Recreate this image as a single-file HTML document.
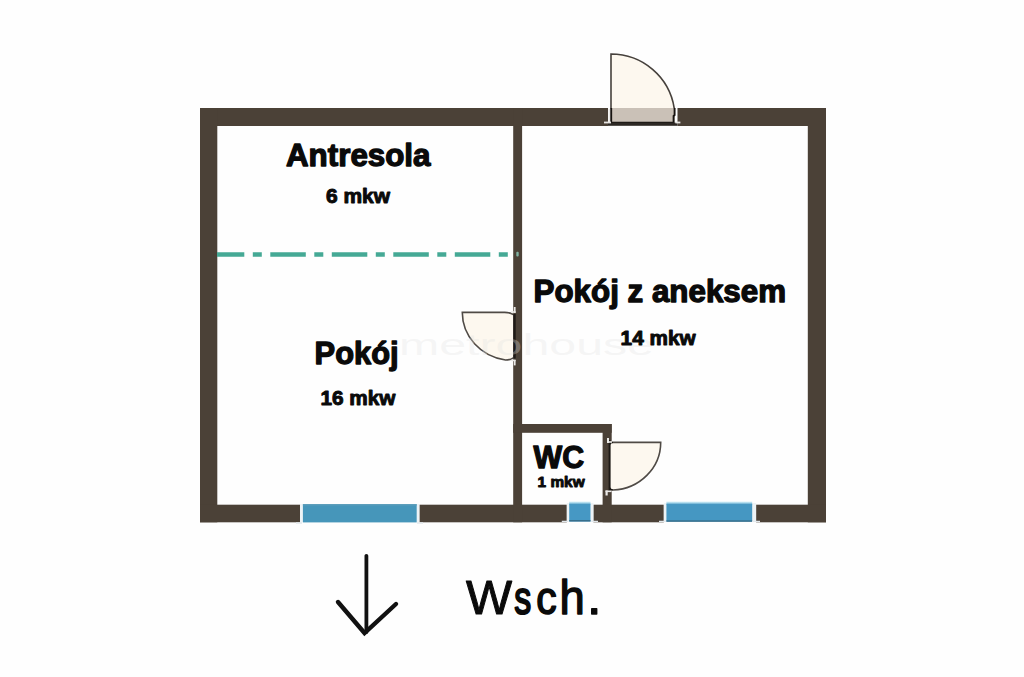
<!DOCTYPE html>
<html>
<head>
<meta charset="utf-8">
<style>
html,body{margin:0;padding:0;background:#fefefe;}
body{width:1024px;height:677px;overflow:hidden;position:relative;}
svg{position:absolute;left:0;top:0;}
.b{font-family:"Liberation Sans",sans-serif;font-weight:bold;fill:#0a0a0a;stroke:#0a0a0a;stroke-width:1.3px;stroke-linejoin:round;}
.s{stroke-width:0.95px;}
.r{font-family:"Liberation Sans",sans-serif;font-weight:normal;fill:#0a0a0a;}
.w{stroke:#0a0a0a;stroke-width:1.1px;stroke-linejoin:round;}
</style>
</head>
<body>
<svg width="1024" height="677" viewBox="0 0 1024 677">
  <defs>
    <linearGradient id="wg" x1="0" y1="0" x2="0" y2="1">
      <stop offset="0" stop-color="#e4f6fa"/>
      <stop offset="0.5" stop-color="#a6d6ea"/>
      <stop offset="1" stop-color="#4a9ac4"/>
    </linearGradient>
  </defs>
  <!-- walls -->
  <g fill="#4b4137">
    <!-- top wall split by door 608..677.5 -->
    <rect x="200" y="108" width="408" height="18"/>
    <rect x="677.5" y="108" width="148.5" height="18"/>
    <!-- left wall -->
    <rect x="200" y="108" width="17.3" height="414.3"/>
    <!-- right wall -->
    <rect x="807.8" y="108" width="18.2" height="414.3"/>
    <!-- bottom wall segments -->
    <rect x="200" y="504.7" width="100" height="17.6"/>
    <rect x="419.4" y="504.7" width="147.4" height="17.6"/>
    <rect x="593.4" y="504.7" width="70.4" height="17.6"/>
    <rect x="756.1" y="504.7" width="69.9" height="17.6"/>
    <!-- middle wall -->
    <rect x="513.2" y="108" width="8.9" height="414.3"/>
    <!-- WC walls -->
    <rect x="513.2" y="424" width="98.5" height="8.8"/>
    <rect x="602.6" y="424" width="9.1" height="98.3"/>
  </g>

  <!-- windows -->
  <g fill="#edf3f6">
    <rect x="300" y="504" width="2.9" height="18.3"/>
    <rect x="416.7" y="504" width="2.7" height="18.3"/>
    <rect x="566.8" y="503" width="2.4" height="19"/>
    <rect x="590.5" y="503" width="2.9" height="19"/>
    <rect x="663.8" y="503" width="2.6" height="19"/>
    <rect x="752.2" y="503" width="3.9" height="19"/>
  </g>
  <g>
    <rect x="302.9" y="504.2" width="113.8" height="18.2" fill="#4696ba"/>
    <rect x="302.9" y="504.2" width="113.8" height="1.3" fill="#5a9cb9"/>
    <rect x="569.2" y="504" width="21.3" height="17.5" fill="#4698c4"/>
    <rect x="569.2" y="501.4" width="21.3" height="3" fill="url(#wg)"/>
    <rect x="569.2" y="520" width="21.3" height="1.5" fill="#386f8c"/>
    <rect x="666.4" y="504" width="85.8" height="17.5" fill="#4597c2"/>
    <rect x="666.4" y="501.4" width="85.8" height="3" fill="url(#wg)"/>
    <rect x="666.4" y="520.3" width="85.8" height="1.5" fill="#386f8c"/>
  </g>
  <g stroke="#e2e8ec" stroke-width="1.3" fill="none">
    <path d="M561.8 521.3 H568 M591.5 521.3 H598"/>
    <path d="M659 521.4 H666 M752 521.4 H760"/>
    <path d="M296 523 H302 M417 523 H423"/>
  </g>

  <!-- top door -->
  <path d="M611 108.5 V54 A64 64 0 0 1 674.2 108.5 Z" fill="#fdf8ef"/>
  <rect x="611" y="108" width="63.6" height="14.5" fill="#cac1b7"/>
  <path d="M611 108.5 V54 A64 64 0 0 1 674.2 108" fill="none" stroke="#46413c" stroke-width="1.6"/>
  <path d="M611.2 108 V122.6 H673.6 L673.6 116 L674.6 115 V108" fill="none" stroke="#171310" stroke-width="1.9"/>
  <rect x="608" y="122.6" width="69.5" height="3.2" fill="#2d2824"/>
  <g fill="#e6e4e1">
    <rect x="604" y="121.6" width="7" height="1.8"/>
    <rect x="675.4" y="121.6" width="5" height="1.8"/>
    <rect x="608.6" y="109" width="1.2" height="13"/>
  </g>

  <!-- middle door (left of middle wall) -->
  <path d="M513.3 314.6 Q510.5 312.4 504.6 312.4 H462.3 A51 48 0 0 0 505.5 360 Q510.5 360 513.3 357.8 Z" fill="#fdf8ef"/>
  <path d="M513.3 314.6 Q510.5 312.4 504.6 312.4 H462.3 A51 48 0 0 0 505.5 360 Q510.5 360 513.3 357.8" fill="none" stroke="#4f4a45" stroke-width="1.6"/>
  <rect x="513.2" y="314" width="2.5" height="44.5" fill="#1e1a16"/>
  <g fill="#ebeae8">
    <rect x="513.8" y="307" width="1.8" height="6"/>
    <rect x="511" y="311.2" width="4.6" height="1.6"/>
    <rect x="513.8" y="360" width="1.8" height="5.4"/>
    <rect x="511" y="359.6" width="4.6" height="1.6"/>
  </g>

  <!-- WC door -->
  <path d="M609.3 444.5 Q610 442.4 613 442.4 H660.7 A50 47.7 0 0 1 613 490 Q610 490 609.3 487.7 Z" fill="#fdf8ef"/>
  <path d="M613 442.4 H660.7 A50 47.7 0 0 1 613 490" fill="none" stroke="#4f4a45" stroke-width="1.6"/>
  <path d="M609.6 440 V492" stroke="#1c1814" stroke-width="2"/>
  <path d="M609.6 444.5 Q610 442.4 613 442.4 M609.6 487.7 Q610 490 613 490" fill="none" stroke="#1c1814" stroke-width="1.6"/>
  <g fill="#ebeae8">
    <rect x="607" y="438" width="2" height="5"/>
    <rect x="607" y="441.2" width="5" height="1.6"/>
    <rect x="605.5" y="490.5" width="2.2" height="5"/>
    <rect x="605.5" y="490.5" width="6" height="1.6"/>
  </g>

  <!-- antresola dash-dot line -->
  <line x1="217" y1="254.5" x2="513" y2="254.5" stroke="#45a995" stroke-width="4.5" stroke-dasharray="35.5 8.5 9 8.5" stroke-dashoffset="8.2"/>

  <rect x="516.3" y="251.8" width="2.4" height="4.6" rx="1" fill="#80b2a2"/>

  <text x="399" y="355" font-family="Liberation Sans, sans-serif" font-size="29" fill="#e2e2e2" fill-opacity="0.33" textLength="255" lengthAdjust="spacingAndGlyphs">metrohouse</text>

  <!-- labels -->
  <text class="b" x="286" y="166.3" font-size="31" textLength="144.5" lengthAdjust="spacingAndGlyphs">Antresola</text>
  <text class="b s" x="326" y="203.3" font-size="19.8" textLength="64" lengthAdjust="spacingAndGlyphs">6 mkw</text>
  <text class="b" x="314.6" y="363.7" font-size="31" textLength="84" lengthAdjust="spacingAndGlyphs">Pokój</text>
  <text class="b s" x="320.4" y="405.2" font-size="20" textLength="75" lengthAdjust="spacingAndGlyphs">16 mkw</text>
  <text class="b" x="533.6" y="302.1" font-size="30.5" textLength="252.4" lengthAdjust="spacingAndGlyphs">Pokój z aneksem</text>
  <text class="b s" x="620.6" y="345.4" font-size="19.8" textLength="75" lengthAdjust="spacingAndGlyphs">14 mkw</text>
  <text class="b" x="533.6" y="468.2" font-size="30.5" textLength="50.6" lengthAdjust="spacingAndGlyphs">WC</text>
  <text class="b s" x="537.6" y="486.6" font-size="15" textLength="47" lengthAdjust="spacingAndGlyphs">1 mkw</text>

  <!-- arrow -->
  <g stroke="#111" stroke-width="4" stroke-linecap="round" fill="none">
    <path d="M366.4 555.8 V632" stroke-width="3.8"/>
    <path d="M338 602 L364.5 633 L396 604" stroke-width="4.4"/>
  </g>
  <text class="r" fill="#0a0a0a" stroke="#0a0a0a" stroke-width="1.0" stroke-linejoin="round" transform="translate(465.97 614.4) scale(0.977 0.975)" font-size="50">W</text>
  <text class="r" fill="#0a0a0a" stroke="#0a0a0a" stroke-width="2.2" stroke-linejoin="round" transform="translate(514.30 614.4) scale(0.679 0.92)" font-size="50">s</text>
  <text class="r" fill="#0a0a0a" stroke="#0a0a0a" stroke-width="1.8" stroke-linejoin="round" transform="translate(536.20 614.4) scale(0.818 0.92)" font-size="50">c</text>
  <text class="r" fill="#0a0a0a" stroke="#0a0a0a" stroke-width="1.5" stroke-linejoin="round" transform="translate(559.53 614.4) scale(0.907 0.98)" font-size="50">h</text>
  <text class="r" fill="#0a0a0a" stroke="#0a0a0a" stroke-width="1.4" stroke-linejoin="round" transform="translate(586.98 614.4) scale(1.039 1.0)" font-size="50">.</text>
</svg>
</body>
</html>
